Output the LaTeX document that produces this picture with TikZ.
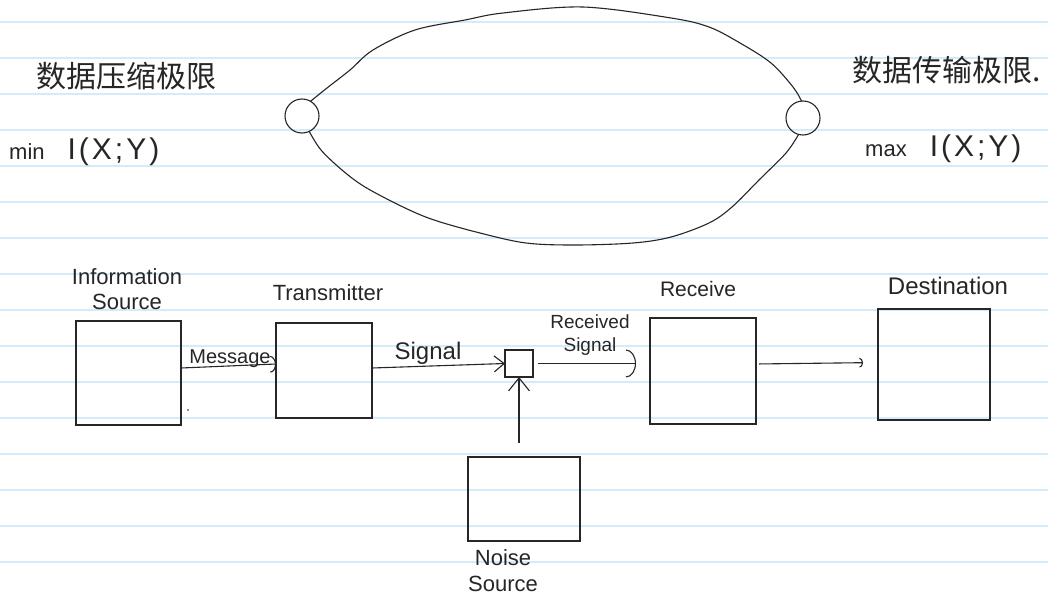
\documentclass[tikz,border=0pt]{standalone}
\usepackage{fontspec}
\setmainfont{Liberation Sans}
\newfontfamily\cjk{Noto Sans CJK SC}
\usetikzlibrary{arrows.meta,calc}
\definecolor{ruled}{RGB}{212,235,250}
\definecolor{ink}{RGB}{38,38,38}
\begin{document}
\begin{tikzpicture}[x=1pt,y=-1pt,
  box/.style={draw=ink,line width=1.1pt,inner sep=0pt,outer sep=0pt},
  pen/.style={draw=ink,line width=1.1pt},
  lbl/.style={inner sep=0pt,text=ink,font=\fontsize{22}{25}\selectfont},
  hanzi/.style={inner sep=0pt,text=ink,font=\cjk\fontsize{30}{36}\selectfont},
  mi/.style={inner sep=0pt,text=ink,font=\fontsize{22}{26}\selectfont},
  vee/.style={-{Straight Barb[length=#1pt,width=1.6*#1pt]}},
  bow/.style={-{Arc Barb[length=#1pt,width=2.8*#1pt]}}
]
% paper and ruling
\useasboundingbox (0,0) rectangle (1048,596);
\fill[white] (0,0) rectangle (1048,596);
\foreach \k in {0,...,15}
  \draw[ruled,line width=1.6pt] (0,{22+36*\k}) -- (1048,{22+36*\k});

% headings: compression limit and transmission limit
\node[hanzi] (zl) at (126,76) {数据压缩极限};
\node[hanzi,anchor=west] (zr) at (852,70) {数据传输极限.};
\node[mi,anchor=base west] (mn) at (9,160)
  {min\hspace{23pt}{\fontsize{30}{36}\selectfont\addfontfeature{LetterSpace=10}I(X;Y)}};
\node[mi,anchor=base west] (mx) at (865,157)
  {max\hspace{23pt}{\fontsize{30}{36}\selectfont\addfontfeature{LetterSpace=10}I(X;Y)}};

% the two poles and the loop joining them
\node[box,circle,minimum size=34pt] (L) at (302,116) {};
\node[box,circle,minimum size=34pt] (R) at (803,118) {};
\draw[pen] plot[smooth,tension=0.55] coordinates {(L.60) (327,88) (350,70) (373,50)
  (415,30) (465,20) (503,13) (583,7) (671,18) (709,27) (740,43) (771,63) (793,87) (R.95)};
\draw[pen] plot[smooth,tension=0.55] coordinates {(L.-65) (321,150) (342,170) (365,187)
  (403,207) (434,220) (480,233) (526,243) (575,245) (633,243) (671,237) (709,223)
  (732,207) (759,180) (786,153) (R.-105)};

% communication system blocks
\node[box,minimum width=105pt,minimum height=104pt] (src) at (128.5,373) {};
\node[box,minimum width=96pt,minimum height=95pt] (tx) at (324,370.5) {};
\node[box,minimum width=28pt,minimum height=27pt] (nb) at (519,363.5) {};
\node[box,minimum width=106pt,minimum height=106pt] (rx) at (703,371) {};
\node[box,minimum width=112pt,minimum height=111pt] (dst) at (934,364.5) {};
\node[box,minimum width=112pt,minimum height=84pt] (ns) at (524,499) {};

% block titles
\node[lbl,align=center] (tsrc) at (127,289) {Information\\Source};
\node[lbl,anchor=base] (ttx) at (328,300) {Transmitter};
\node[lbl,anchor=base,font=\fontsize{21}{25}\selectfont] (trx) at (698,296) {Receive};
\node[lbl,anchor=base,font=\fontsize{24}{28}\selectfont] (tdst) at (948,294) {Destination};
\node[lbl,align=center,font=\fontsize{22}{26}\selectfont] (tns) at (503,571) {Noise\\Source};

% connectors
\draw[pen,bow=6] ([yshift=5pt]src.east) -- ([yshift=6.5pt]tx.west);
\node[lbl,anchor=base,font=\fontsize{20}{24}\selectfont] (tmsg) at (230,363) {Message};
\draw[pen,vee=10] ([yshift=2.5pt]tx.east) -- (nb.west);
\node[lbl,anchor=base,font=\fontsize{24}{28}\selectfont] (tsig) at (428,359) {Signal};
\draw[pen,vee=13,shorten <=14pt] (nb.south |- ns.north) -- (nb.south);
\draw[pen,bow=10,shorten <=5pt,shorten >=14pt] (nb.east) -- (nb.east -| rx.west);
\node[lbl,align=center,font=\fontsize{19}{23}\selectfont] (trs) at (590,335) {Received\\Signal};
\draw[pen,bow=3.5,shorten <=3pt,shorten >=15pt] ([yshift=7pt]rx.east) -- ([yshift=2pt]dst.west);

% stray pen marks
\fill[ink] (188,410) circle (0.9pt);
\fill[ink] (990,412) circle (0.9pt);
\end{tikzpicture}
\end{document}
